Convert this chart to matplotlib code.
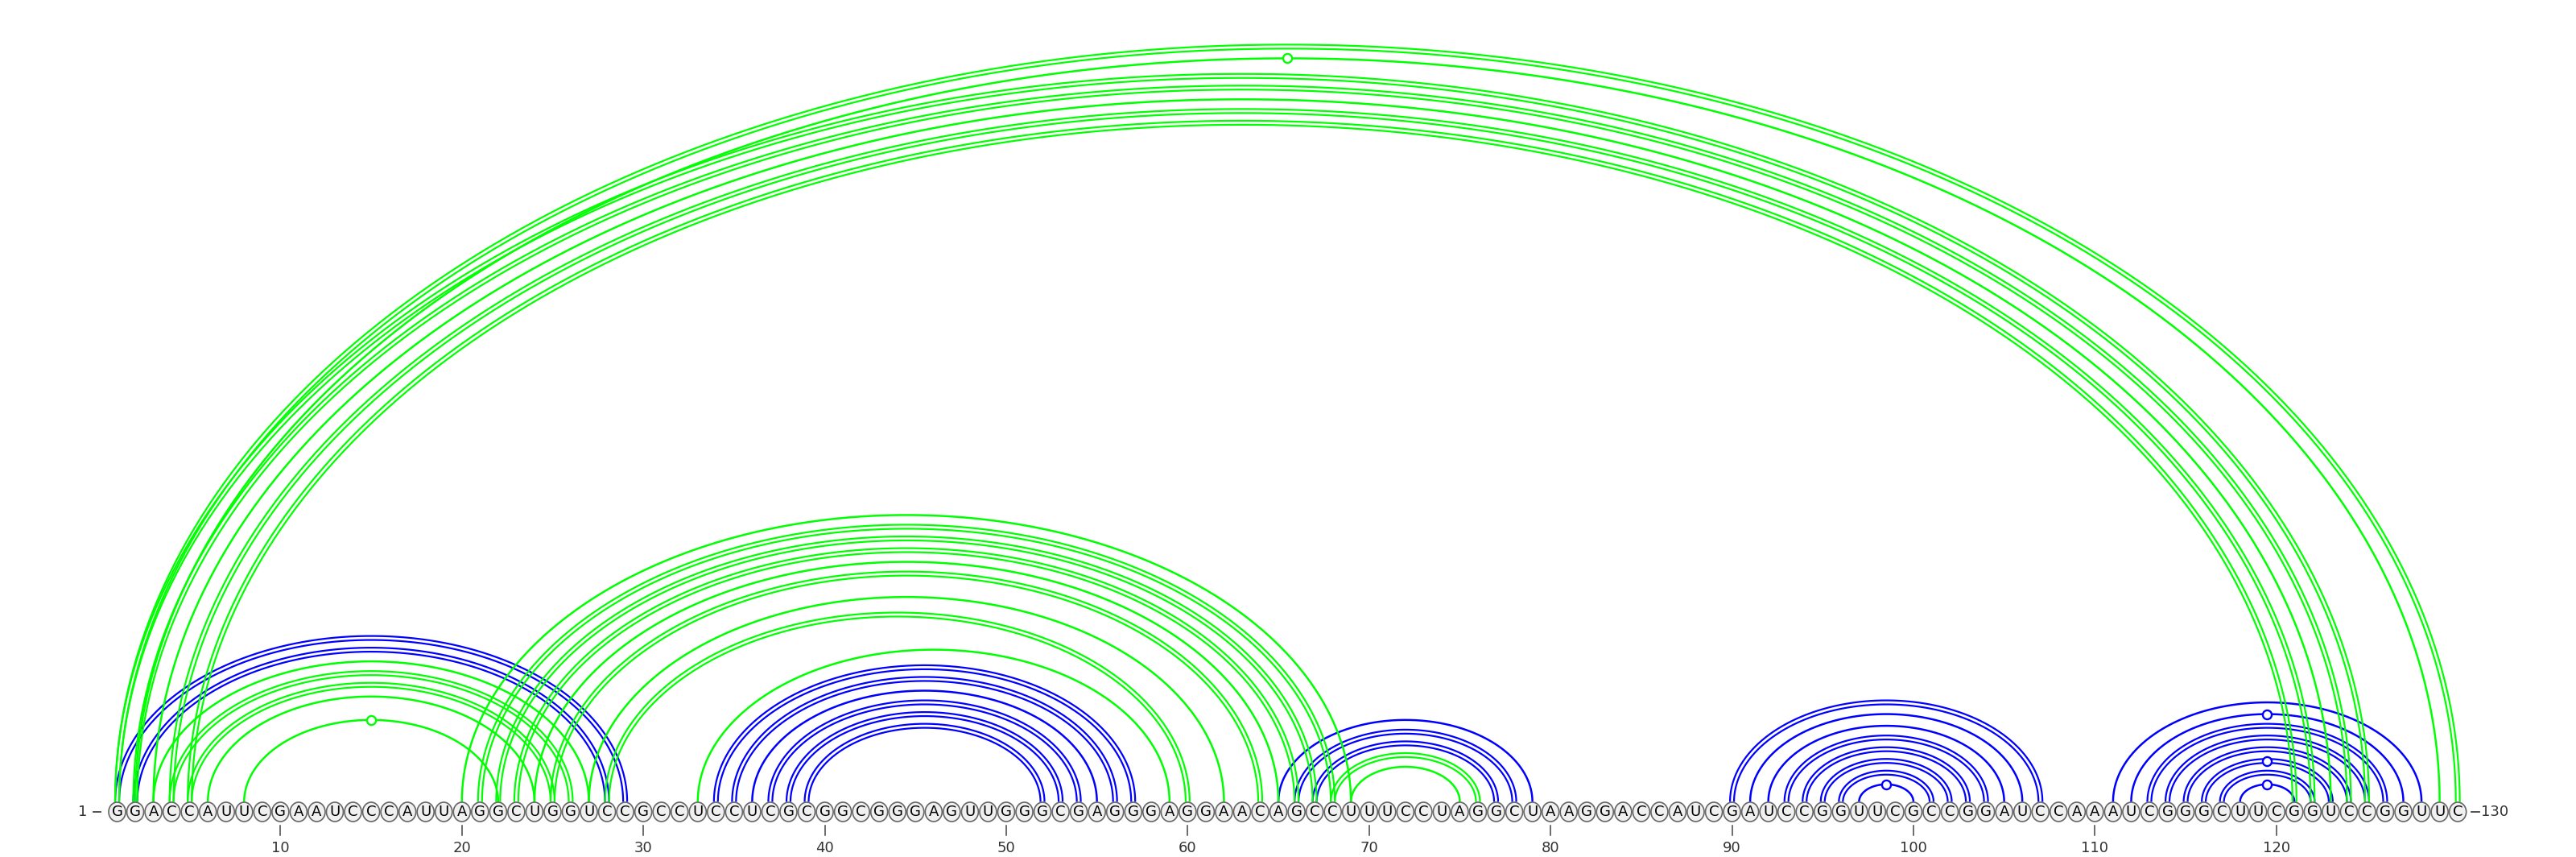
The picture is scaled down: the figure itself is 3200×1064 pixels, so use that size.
import numpy as np
import matplotlib.pyplot as plt
from matplotlib.patches import Ellipse

# sequence, read in blocks of ten
seq_blocks = ["GGACCAUUCG", "AAUCCCAUUA", "GGCUGGUCCG", "CCUCCUCGCG", "GCGGGAGUUG",
              "GGCGAGGGAG", "GAACAGCCUU", "UCCUAGGCUA", "AGGACCAUCG", "AUCCGGUUCG",
              "CCGGAUCCAA", "AUCGGGCUUC", "GGUCCGGUUC"]
seq = "".join(seq_blocks)

# blue pairs (5' end, 3' end, number of lines)
blue_5p = [1, 2, 34, 35, 36, 37, 38, 39, 65, 66, 67, 90, 91, 92, 93, 94, 95, 96, 97,
           111, 112, 113, 114, 115, 116, 117, 118]
blue_3p = [29, 28, 57, 56, 55, 54, 53, 52, 79, 78, 77, 107, 106, 105, 104, 103, 102, 101, 100,
           128, 127, 126, 125, 124, 123, 122, 121]
blue_lines = [2, 2, 2, 2, 1, 2, 2, 2, 1, 2, 2, 2, 1, 1, 2, 2, 2, 2, 1,
              1, 1, 2, 2, 2, 2, 2, 1]

# green pairs
green_5p = [1, 2, 1, 2, 3, 4, 5, 3, 4, 5, 6, 8, 20, 21, 22, 23, 24, 25, 27, 28, 33, 68, 69]
green_3p = [130, 129, 125, 124, 123, 122, 121, 27, 26, 25, 24, 22, 69, 68, 67, 66, 65, 64, 62, 60, 59, 76, 75]
green_lines = [2, 1, 2, 2, 1, 2, 2, 1, 2, 2, 1, 1, 1, 2, 2, 2, 1, 2, 1, 2, 1, 2, 1]

tick_pos = [10, 20, 30, 40, 50, 60, 70, 80, 90, 100, 110, 120]

BLUE = "#0000ff"
GREEN = "#00ff00"
PX = 1 / 22.54          # data units per pixel
Y0 = 0.55               # where arcs land (top of nucleotide circle)
FLAT = 0.645            # arc height / half span
D = 0.11                # half gap of a double line

fig = plt.figure(figsize=(32, 10.64), dpi=100)
ax = fig.add_axes([0, 0, 1, 1])
ax.set_xlim(1 - 145.5 * PX, 1 - 145.5 * PX + 3200 * PX)
ax.set_ylim(-56 * PX, -56 * PX + 1064 * PX)
ax.axis("off")


def is_gu(i, j):
    return {seq[i - 1], seq[j - 1]} == {"G", "U"}


def draw_arc(i, j, n, color, z):
    c = (i + j) / 2
    r = (j - i) / 2
    h = FLAT * r
    t = np.linspace(0, np.pi, 400)
    x = c + r * np.cos(t)
    y = Y0 + h * np.sin(t)
    if n == 1:
        ax.plot(x, y, color=color, lw=1.8, zorder=z, solid_capstyle="butt")
    else:
        nx = h * np.cos(t)
        ny = r * np.sin(t)
        nn = np.hypot(nx, ny)
        for d in (-D, D):
            ax.plot(x + d * nx / nn, y + d * ny / nn, color=color, lw=1.6, zorder=z,
                    solid_capstyle="butt")
    if is_gu(i, j):
        ax.plot(c, Y0 + h, "o", ms=8, mfc="white", mec=color, mew=1.7, zorder=z + 0.5)


for i, j, n in zip(blue_5p, blue_3p, blue_lines):
    draw_arc(i, j, n, BLUE, 1)
for i, j, n in zip(green_5p, green_3p, green_lines):
    draw_arc(i, j, n, GREEN, 2)

# nucleotides
for k, base in enumerate(seq, start=1):
    ax.add_patch(Ellipse((k, 0), 21 * PX, 24 * PX, fc="#f0f0f0", ec="#666666", lw=1.2, zorder=6))
    ax.text(k, -0.02, base, ha="center", va="center", fontsize=13, color="black", zorder=7)

# ticks and numbers
for p in tick_pos:
    ax.plot([p, p], [-17 * PX, -29 * PX], color="#444444", lw=1.1)
    ax.text(p, -45.5 * PX, str(p), ha="center", va="center", fontsize=13, color="#333333")

ax.plot([1 - 29.8 * PX, 1 - 20.1 * PX], [0, 0], color="#444444", lw=1.3)
ax.text(1 - 37 * PX, 0, "1", ha="right", va="center", fontsize=13, color="#333333")
n = len(seq)
ax.plot([n + 16.8 * PX, n + 26.8 * PX], [0, 0], color="#444444", lw=1.3)
ax.text(n + 29 * PX, 0, str(n), ha="left", va="center", fontsize=13, color="#333333")

fig.savefig("out.png", dpi=100, facecolor="white")
